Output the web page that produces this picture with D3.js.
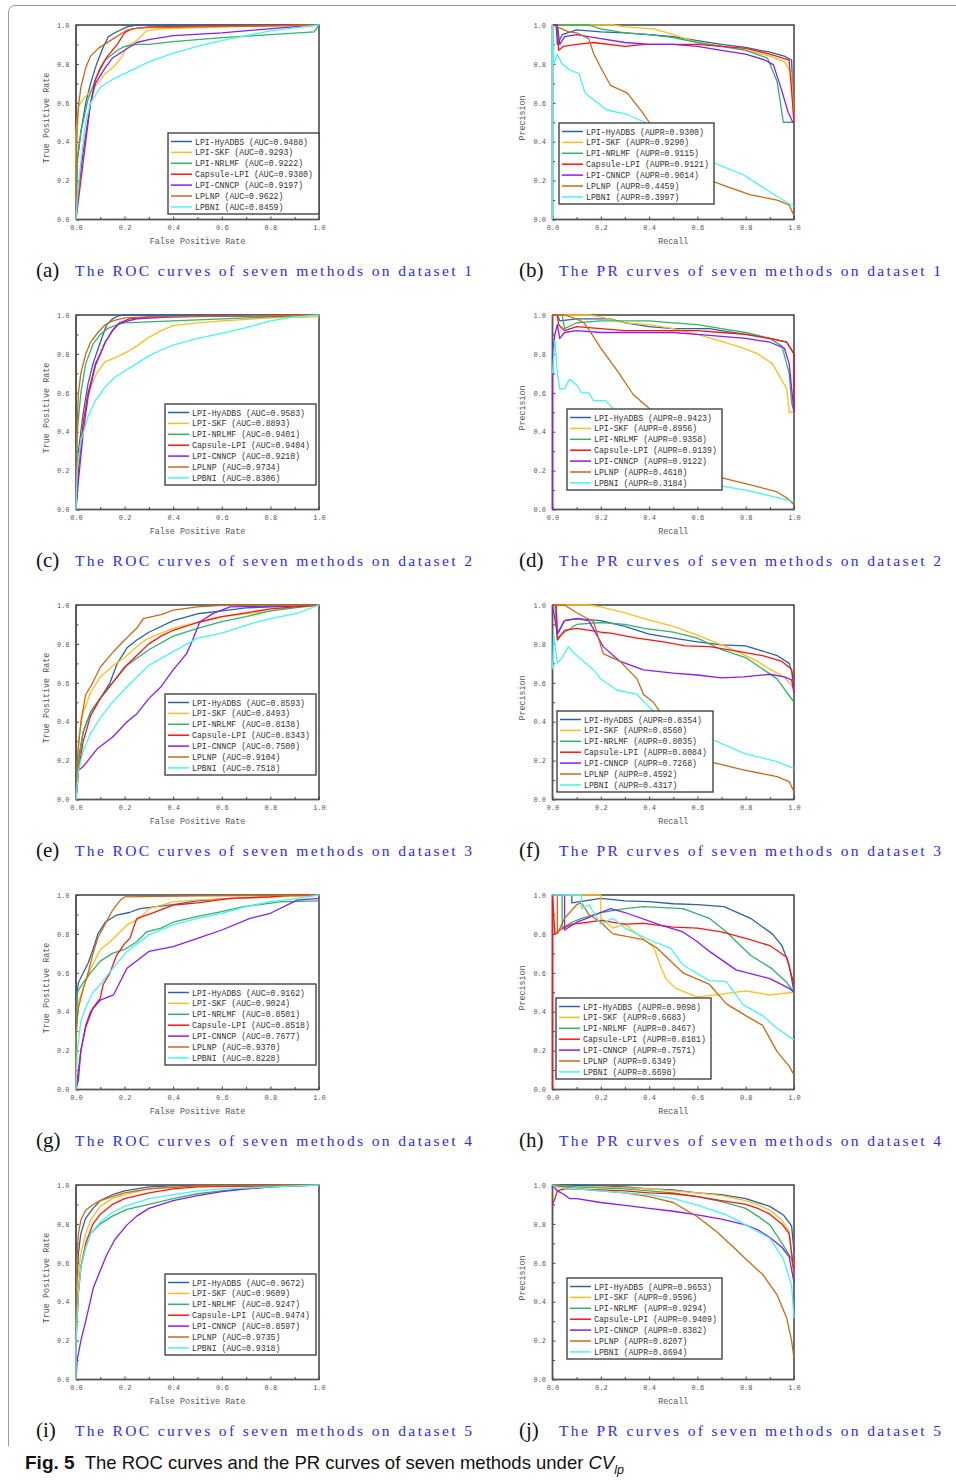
<!DOCTYPE html>
<html>
<head>
<meta charset="utf-8">
<script src="https://cdn.jsdelivr.net/npm/d3@7"></script>
<style>
body { margin: 0; background: #fff; }
</style>
</head>
<body>
<svg id="fig" width="956" height="1480"></svg>
<script>
// methods in legend order, and their line colours
const methods = ["LPI-HyADBS", "LPI-SKF", "LPI-NRLMF", "Capsule-LPI", "LPI-CNNCP", "LPLNP", "LPBNI"];
const colors = ["#2f62a3", "#ffbe1e", "#30b468", "#ff1414", "#8a1cf5", "#c96a16", "#45f5f5"];
const majorTicks = [0, 0.2, 0.4, 0.6, 0.8, 1.0];
const minorTicks = [0.1, 0.3, 0.5, 0.7, 0.9];

// AUC / AUPR per dataset, method order as above
const rocAuc = [
  ["0.9488", "0.9293", "0.9222", "0.9380", "0.9197", "0.9622", "0.8459"],
  ["0.9583", "0.8893", "0.9401", "0.9404", "0.9210", "0.9734", "0.8306"],
  ["0.8593", "0.8493", "0.8138", "0.8343", "0.7500", "0.9104", "0.7518"],
  ["0.9162", "0.9024", "0.8501", "0.8518", "0.7677", "0.9370", "0.8228"],
  ["0.9672", "0.9609", "0.9247", "0.9474", "0.8597", "0.9735", "0.9318"]
];
const prAupr = [
  ["0.9300", "0.9290", "0.9115", "0.9121", "0.9014", "0.4459", "0.3997"],
  ["0.9423", "0.8956", "0.9358", "0.9139", "0.9122", "0.4610", "0.3184"],
  ["0.8354", "0.8560", "0.8035", "0.8084", "0.7268", "0.4592", "0.4317"],
  ["0.9098", "0.6683", "0.8467", "0.8181", "0.7571", "0.6349", "0.6698"],
  ["0.9653", "0.9596", "0.9294", "0.9409", "0.8382", "0.8207", "0.8694"]
];

// curves: [x, y] points, one list per method
const roc1 = [
  [[0,0],[0.005,0.3],[0.02,0.45],[0.04,0.6],[0.06,0.7],[0.085,0.8],[0.11,0.88],[0.133,0.94],[0.16,0.96],[0.21,0.99],[0.25,1],[1,1]],
  [[0,0],[0,0.45],[0.01,0.58],[0.03,0.62],[0.06,0.66],[0.09,0.7],[0.12,0.75],[0.16,0.79],[0.19,0.84],[0.21,0.89],[0.25,0.92],[0.29,0.97],[0.35,0.98],[0.6,0.99],[1,1]],
  [[0,0],[0.005,0.3],[0.02,0.45],[0.05,0.62],[0.08,0.72],[0.12,0.82],[0.17,0.87],[0.2,0.89],[0.25,0.9],[0.3,0.9],[0.4,0.914],[0.6,0.935],[0.8,0.95],[0.98,0.965],[1,1]],
  [[0,0],[0.005,0.05],[0.02,0.2],[0.04,0.4],[0.06,0.6],[0.08,0.72],[0.1,0.78],[0.13,0.84],[0.17,0.9],[0.2,0.96],[0.23,0.98],[0.3,0.99],[0.6,0.995],[1,1]],
  [[0,0],[0.01,0.15],[0.03,0.35],[0.06,0.6],[0.08,0.7],[0.12,0.78],[0.15,0.83],[0.2,0.87],[0.25,0.91],[0.3,0.925],[0.4,0.945],[0.6,0.96],[0.84,0.985],[1,1]],
  [[0,0],[0,0.2],[0.005,0.48],[0.01,0.58],[0.02,0.68],[0.04,0.78],[0.06,0.84],[0.092,0.88],[0.154,0.93],[0.21,0.974],[0.26,0.985],[0.5,0.99],[1,1]],
  [[0,0],[0.005,0.1],[0.02,0.3],[0.04,0.5],[0.06,0.6],[0.1,0.68],[0.15,0.72],[0.2,0.75],[0.3,0.81],[0.4,0.855],[0.5,0.89],[0.6,0.92],[0.7,0.945],[0.8,0.97],[0.9,0.985],[1,1]]
];
const pr1 = [
  [[0,1],[0.015,1],[0.02,0.9],[0.04,0.95],[0.1,0.975],[0.2,0.965],[0.3,0.96],[0.4,0.95],[0.5,0.94],[0.6,0.92],[0.7,0.9],[0.8,0.885],[0.9,0.86],[0.96,0.84],[0.99,0.82],[1,0.5]],
  [[0,1],[0.25,1],[0.3,0.99],[0.42,0.98],[0.5,0.95],[0.6,0.91],[0.7,0.89],[0.8,0.87],[0.9,0.84],[0.96,0.81],[0.99,0.75],[1,0.5]],
  [[0,1],[0.15,1],[0.2,0.98],[0.3,0.96],[0.4,0.95],[0.5,0.935],[0.6,0.91],[0.7,0.89],[0.8,0.87],[0.89,0.83],[0.93,0.71],[0.956,0.5],[1,0.5]],
  [[0,1],[0.02,1],[0.025,0.87],[0.045,0.89],[0.1,0.9],[0.17,0.91],[0.3,0.89],[0.38,0.9],[0.5,0.9],[0.6,0.9],[0.7,0.89],[0.8,0.88],[0.9,0.85],[0.98,0.82],[1,0.5]],
  [[0,1],[0.02,1],[0.03,0.9],[0.05,0.94],[0.1,0.95],[0.2,0.93],[0.3,0.91],[0.4,0.9],[0.5,0.9],[0.6,0.89],[0.7,0.87],[0.8,0.85],[0.88,0.82],[0.915,0.795],[0.95,0.66],[0.976,0.55],[0.995,0.5],[1,0.5]],
  [[0,1],[0.066,0.966],[0.1,0.96],[0.15,0.93],[0.17,0.855],[0.2,0.78],[0.24,0.69],[0.31,0.65],[0.37,0.555],[0.4,0.5],[0.45,0.42],[0.5,0.35],[0.59,0.23],[0.72,0.17],[0.82,0.127],[0.93,0.1],[0.98,0.075],[1,0.02]],
  [[0,0],[0,1],[0.005,0.8],[0.02,0.85],[0.04,0.8],[0.07,0.77],[0.11,0.75],[0.135,0.65],[0.225,0.563],[0.31,0.54],[0.38,0.5],[0.45,0.43],[0.55,0.35],[0.65,0.3],[0.79,0.23],[0.93,0.118],[1,0.067]]
];
const roc2 = [
  [[0,0],[0.01,0.3],[0.03,0.5],[0.05,0.65],[0.07,0.75],[0.1,0.86],[0.126,0.95],[0.15,0.98],[0.174,0.995],[0.2,1],[1,1]],
  [[0,0],[0.01,0.25],[0.03,0.45],[0.05,0.6],[0.085,0.7],[0.12,0.76],[0.16,0.78],[0.21,0.81],[0.25,0.84],[0.3,0.885],[0.35,0.92],[0.4,0.945],[0.5,0.96],[0.6,0.97],[0.8,0.985],[1,0.99]],
  [[0,0],[0.005,0.4],[0.02,0.6],[0.04,0.75],[0.07,0.85],[0.1,0.9],[0.13,0.93],[0.17,0.95],[0.2,0.96],[0.3,0.965],[0.5,0.975],[0.7,0.985],[0.9,0.995],[1,1]],
  [[0,0],[0.01,0.2],[0.03,0.45],[0.05,0.6],[0.08,0.75],[0.1,0.8],[0.12,0.86],[0.15,0.92],[0.18,0.96],[0.22,0.98],[0.3,0.99],[1,1]],
  [[0,0],[0.01,0.15],[0.03,0.4],[0.05,0.58],[0.08,0.74],[0.1,0.8],[0.12,0.86],[0.15,0.92],[0.18,0.96],[0.25,0.98],[0.4,0.99],[1,1]],
  [[0,0],[0,0.2],[0.005,0.45],[0.01,0.6],[0.02,0.7],[0.04,0.8],[0.06,0.86],[0.09,0.91],[0.12,0.95],[0.15,0.97],[0.2,0.985],[0.3,0.99],[1,1]],
  [[0,0],[0.005,0.2],[0.02,0.35],[0.05,0.48],[0.08,0.56],[0.12,0.63],[0.16,0.68],[0.21,0.72],[0.25,0.75],[0.3,0.79],[0.35,0.82],[0.4,0.845],[0.5,0.88],[0.6,0.905],[0.7,0.935],[0.8,0.97],[0.9,0.99],[1,1]]
];
const pr2 = [
  [[0,1],[0.02,1],[0.03,0.97],[0.1,0.98],[0.24,0.98],[0.3,0.96],[0.4,0.94],[0.5,0.93],[0.65,0.93],[0.7,0.92],[0.8,0.9],[0.9,0.88],[0.97,0.86],[1,0.8],[1,0.5]],
  [[0,1],[0.15,1],[0.2,0.99],[0.3,0.96],[0.4,0.95],[0.5,0.93],[0.6,0.9],[0.71,0.86],[0.79,0.83],[0.85,0.8],[0.91,0.75],[0.97,0.62],[0.98,0.5],[1,0.5]],
  [[0,1],[0.04,1],[0.05,0.93],[0.1,0.96],[0.2,0.97],[0.4,0.97],[0.5,0.96],[0.6,0.95],[0.7,0.93],[0.8,0.91],[0.9,0.88],[0.95,0.84],[0.98,0.7],[0.99,0.55],[1,0.5]],
  [[0,1],[0.02,1],[0.025,0.95],[0.05,0.92],[0.1,0.94],[0.2,0.93],[0.3,0.92],[0.6,0.92],[0.7,0.91],[0.8,0.9],[0.9,0.88],[0.97,0.86],[1,0.8],[1,0.5]],
  [[0,0],[0,0.8],[0.01,0.9],[0.02,0.95],[0.03,0.88],[0.05,0.91],[0.1,0.92],[0.2,0.91],[0.5,0.91],[0.6,0.9],[0.7,0.89],[0.8,0.88],[0.9,0.86],[0.96,0.83],[0.98,0.75],[1,0.5]],
  [[0,1],[0.05,1],[0.1,0.98],[0.13,0.96],[0.156,0.914],[0.2,0.83],[0.27,0.71],[0.335,0.59],[0.4,0.52],[0.45,0.44],[0.55,0.3],[0.65,0.2],[0.71,0.16],[0.82,0.127],[0.93,0.09],[0.97,0.06],[1,0.024]],
  [[0,0.7],[0.01,0.87],[0.02,0.7],[0.03,0.62],[0.05,0.62],[0.07,0.67],[0.1,0.64],[0.12,0.6],[0.15,0.6],[0.17,0.56],[0.22,0.56],[0.25,0.52],[0.3,0.45],[0.4,0.33],[0.5,0.24],[0.6,0.16],[0.7,0.12],[0.8,0.1],[0.9,0.07],[1,0.04]]
];
const roc3 = [
  [[0,0],[0.01,0.2],[0.03,0.35],[0.06,0.45],[0.1,0.52],[0.14,0.6],[0.17,0.7],[0.21,0.78],[0.25,0.82],[0.3,0.86],[0.4,0.92],[0.5,0.955],[0.6,0.97],[0.7,0.985],[1,1]],
  [[0,0],[0.01,0.3],[0.03,0.45],[0.06,0.55],[0.1,0.63],[0.154,0.69],[0.2,0.73],[0.263,0.8],[0.3,0.83],[0.4,0.88],[0.5,0.91],[0.6,0.94],[0.7,0.955],[0.8,0.97],[0.9,0.99],[1,1]],
  [[0,0],[0.01,0.2],[0.03,0.35],[0.06,0.45],[0.1,0.52],[0.15,0.6],[0.21,0.69],[0.3,0.77],[0.4,0.84],[0.5,0.88],[0.6,0.915],[0.7,0.94],[0.8,0.97],[0.9,0.985],[1,1]],
  [[0,0],[0.01,0.15],[0.03,0.3],[0.06,0.43],[0.1,0.52],[0.15,0.6],[0.2,0.68],[0.25,0.74],[0.3,0.8],[0.35,0.84],[0.4,0.87],[0.5,0.91],[0.6,0.94],[0.7,0.96],[0.8,0.98],[0.9,0.99],[1,1]],
  [[0,0],[0.01,0.15],[0.03,0.17],[0.09,0.264],[0.15,0.32],[0.21,0.4],[0.25,0.44],[0.3,0.52],[0.35,0.58],[0.4,0.666],[0.455,0.75],[0.48,0.82],[0.51,0.914],[0.565,0.957],[0.634,0.99],[1,1]],
  [[0,0],[0.005,0.2],[0.02,0.4],[0.04,0.54],[0.06,0.58],[0.1,0.68],[0.154,0.76],[0.2,0.82],[0.25,0.88],[0.277,0.93],[0.35,0.95],[0.4,0.974],[0.5,0.99],[0.6,0.998],[1,1]],
  [[0,0],[0.01,0.15],[0.03,0.25],[0.06,0.34],[0.1,0.42],[0.15,0.5],[0.21,0.58],[0.3,0.69],[0.4,0.76],[0.5,0.83],[0.6,0.855],[0.7,0.897],[0.8,0.93],[0.91,0.957],[1,1]]
];
const pr3 = [
  [[0,1],[0.015,1],[0.02,0.85],[0.05,0.92],[0.1,0.93],[0.2,0.92],[0.3,0.89],[0.4,0.85],[0.5,0.83],[0.6,0.81],[0.7,0.795],[0.8,0.79],[0.93,0.74],[0.98,0.7],[1,0.62]],
  [[0,1],[0.15,1],[0.2,0.99],[0.3,0.96],[0.38,0.93],[0.5,0.89],[0.6,0.845],[0.73,0.78],[0.8,0.74],[0.85,0.71],[0.9,0.67],[0.96,0.63],[1,0.57]],
  [[0,1],[0.01,1],[0.02,0.83],[0.05,0.86],[0.1,0.9],[0.2,0.91],[0.3,0.9],[0.38,0.88],[0.5,0.86],[0.6,0.83],[0.7,0.77],[0.8,0.73],[0.93,0.62],[1,0.5]],
  [[0,1],[0.015,1],[0.02,0.82],[0.05,0.87],[0.1,0.88],[0.2,0.86],[0.24,0.855],[0.35,0.83],[0.46,0.81],[0.55,0.79],[0.65,0.786],[0.75,0.765],[0.87,0.74],[0.95,0.71],[0.99,0.67],[1,0.55]],
  [[0,1],[0.02,0.85],[0.05,0.92],[0.1,0.93],[0.15,0.92],[0.21,0.786],[0.28,0.71],[0.377,0.666],[0.5,0.65],[0.6,0.64],[0.7,0.625],[0.79,0.63],[0.9,0.644],[0.96,0.63],[0.99,0.615],[1,0.55]],
  [[0,1],[0.05,1],[0.1,0.96],[0.17,0.914],[0.21,0.75],[0.28,0.71],[0.35,0.62],[0.377,0.54],[0.418,0.5],[0.45,0.44],[0.5,0.36],[0.55,0.28],[0.65,0.195],[0.79,0.152],[0.93,0.118],[0.98,0.092],[1,0.04]],
  [[0,0.67],[0.005,0.85],[0.02,0.7],[0.04,0.73],[0.066,0.786],[0.1,0.74],[0.17,0.666],[0.2,0.62],[0.266,0.563],[0.35,0.54],[0.404,0.47],[0.45,0.42],[0.55,0.35],[0.65,0.315],[0.79,0.238],[0.93,0.195],[1,0.16]]
];
const roc4 = [
  [[0,0],[0,0.35],[0.005,0.5],[0.01,0.55],[0.03,0.6],[0.05,0.65],[0.07,0.72],[0.09,0.8],[0.12,0.86],[0.167,0.897],[0.22,0.91],[0.263,0.93],[0.4,0.95],[0.5,0.97],[0.6,0.98],[0.8,0.99],[1,1]],
  [[0,0],[0,0.25],[0.01,0.45],[0.03,0.52],[0.06,0.62],[0.1,0.72],[0.14,0.76],[0.21,0.846],[0.263,0.88],[0.3,0.93],[0.4,0.965],[0.5,0.975],[0.6,0.98],[0.8,0.99],[1,1]],
  [[0,0],[0,0.2],[0.005,0.5],[0.03,0.55],[0.06,0.6],[0.1,0.66],[0.15,0.7],[0.2,0.72],[0.25,0.76],[0.29,0.81],[0.35,0.83],[0.4,0.86],[0.5,0.89],[0.6,0.915],[0.69,0.94],[0.84,0.965],[1,0.97]],
  [[0,0],[0.01,0.1],[0.02,0.2],[0.04,0.32],[0.07,0.42],[0.1,0.47],[0.112,0.54],[0.14,0.6],[0.167,0.69],[0.2,0.75],[0.222,0.777],[0.25,0.88],[0.3,0.9],[0.4,0.948],[0.5,0.96],[0.634,0.983],[0.8,0.99],[0.9,1],[1,1]],
  [[0,0],[0.01,0.05],[0.02,0.2],[0.04,0.33],[0.06,0.4],[0.1,0.46],[0.154,0.486],[0.21,0.623],[0.3,0.71],[0.4,0.735],[0.5,0.777],[0.6,0.82],[0.716,0.88],[0.8,0.906],[0.91,0.974],[1,0.983]],
  [[0,0],[0,0.3],[0.01,0.42],[0.03,0.52],[0.05,0.6],[0.07,0.7],[0.09,0.78],[0.12,0.85],[0.15,0.92],[0.18,0.97],[0.2,0.99],[0.5,0.995],[1,1]],
  [[0,0],[0.005,0.2],[0.02,0.35],[0.04,0.42],[0.07,0.5],[0.1,0.54],[0.15,0.62],[0.21,0.71],[0.3,0.795],[0.4,0.846],[0.5,0.88],[0.6,0.906],[0.7,0.94],[0.8,0.966],[0.9,0.98],[1,1]]
];
const pr4 = [
  [[0,1],[0.08,1],[0.08,0.96],[0.2,0.983],[0.3,0.97],[0.4,0.966],[0.5,0.955],[0.6,0.95],[0.71,0.94],[0.82,0.88],[0.91,0.8],[0.95,0.74],[0.98,0.64],[1,0.5]],
  [[0,1],[0.2,1],[0.2,0.88],[0.25,0.83],[0.3,0.85],[0.35,0.8],[0.42,0.73],[0.445,0.64],[0.47,0.57],[0.51,0.52],[0.6,0.476],[0.7,0.49],[0.8,0.507],[0.9,0.486],[1,0.5]],
  [[0,1],[0.04,1],[0.04,0.83],[0.08,0.86],[0.12,0.88],[0.2,0.91],[0.3,0.93],[0.377,0.94],[0.54,0.93],[0.65,0.88],[0.72,0.81],[0.82,0.69],[0.91,0.62],[0.97,0.55],[1,0.5]],
  [[0,0],[0,1],[0.01,0.8],[0.03,0.82],[0.08,0.85],[0.15,0.86],[0.2,0.87],[0.3,0.85],[0.377,0.854],[0.5,0.835],[0.6,0.83],[0.7,0.81],[0.8,0.777],[0.9,0.74],[0.97,0.68],[1,0.54]],
  [[0,1],[0.05,1],[0.05,0.82],[0.1,0.86],[0.142,0.88],[0.2,0.91],[0.24,0.93],[0.3,0.91],[0.445,0.846],[0.54,0.81],[0.6,0.76],[0.65,0.71],[0.76,0.615],[0.9,0.57],[0.98,0.52],[1,0.5]],
  [[0,1],[0.02,1],[0.02,0.8],[0.05,0.88],[0.1,0.95],[0.12,0.96],[0.15,0.9],[0.2,0.86],[0.25,0.8],[0.377,0.77],[0.43,0.73],[0.54,0.6],[0.65,0.54],[0.72,0.44],[0.8,0.38],[0.87,0.33],[0.93,0.195],[0.98,0.12],[1,0.075]],
  [[0,1],[0.12,1],[0.12,0.93],[0.15,0.95],[0.2,0.85],[0.25,0.88],[0.3,0.83],[0.35,0.8],[0.4,0.77],[0.49,0.726],[0.54,0.64],[0.65,0.56],[0.72,0.555],[0.79,0.435],[0.87,0.38],[0.93,0.315],[1,0.255]]
];
const roc5 = [
  [[0,0],[0,0.2],[0.005,0.5],[0.01,0.65],[0.02,0.75],[0.04,0.83],[0.07,0.88],[0.1,0.92],[0.15,0.95],[0.2,0.97],[0.3,0.99],[0.4,0.995],[1,1]],
  [[0,0],[0,0.3],[0.005,0.45],[0.01,0.55],[0.02,0.65],[0.04,0.75],[0.06,0.82],[0.1,0.89],[0.15,0.93],[0.2,0.95],[0.3,0.98],[0.4,0.99],[1,1]],
  [[0,0],[0,0.2],[0.01,0.45],[0.02,0.58],[0.04,0.68],[0.06,0.75],[0.1,0.8],[0.15,0.84],[0.21,0.875],[0.3,0.9],[0.4,0.93],[0.5,0.955],[0.6,0.97],[0.7,0.98],[0.8,0.99],[1,1]],
  [[0,0],[0,0.2],[0.01,0.45],[0.02,0.58],[0.04,0.7],[0.07,0.8],[0.1,0.85],[0.15,0.9],[0.2,0.93],[0.3,0.96],[0.4,0.98],[0.5,0.99],[1,1]],
  [[0,0],[0.005,0.1],[0.02,0.2],[0.04,0.3],[0.071,0.47],[0.1,0.56],[0.126,0.64],[0.16,0.72],[0.21,0.795],[0.25,0.84],[0.3,0.88],[0.4,0.92],[0.5,0.945],[0.6,0.966],[0.7,0.98],[0.8,0.99],[0.9,0.995],[1,1]],
  [[0,0],[0,0.25],[0.003,0.6],[0.01,0.75],[0.02,0.82],[0.04,0.87],[0.07,0.9],[0.1,0.92],[0.15,0.94],[0.2,0.96],[0.3,0.98],[0.5,0.995],[1,1]],
  [[0,0],[0,0.2],[0.01,0.45],[0.02,0.58],[0.04,0.68],[0.06,0.75],[0.1,0.81],[0.15,0.86],[0.2,0.89],[0.3,0.93],[0.4,0.95],[0.5,0.97],[0.6,0.98],[0.8,0.99],[1,1]]
];
const pr5 = [
  [[0,1],[0.1,1],[0.2,0.995],[0.3,0.99],[0.4,0.98],[0.5,0.975],[0.6,0.96],[0.7,0.95],[0.8,0.93],[0.9,0.89],[0.956,0.846],[0.99,0.79],[1,0.66]],
  [[0,1],[0.1,0.99],[0.2,0.99],[0.3,0.985],[0.4,0.98],[0.5,0.97],[0.6,0.96],[0.7,0.945],[0.8,0.92],[0.85,0.9],[0.9,0.87],[0.95,0.82],[0.98,0.76],[1,0.55]],
  [[0,1],[0.1,0.99],[0.2,0.985],[0.3,0.98],[0.4,0.97],[0.5,0.96],[0.6,0.94],[0.7,0.915],[0.8,0.88],[0.85,0.84],[0.9,0.795],[0.956,0.69],[0.99,0.62],[1,0.55]],
  [[0,0.9],[0.01,0.93],[0.02,0.97],[0.05,0.98],[0.1,0.98],[0.2,0.975],[0.3,0.97],[0.4,0.96],[0.5,0.955],[0.6,0.94],[0.7,0.92],[0.8,0.9],[0.85,0.88],[0.9,0.85],[0.95,0.8],[0.98,0.75],[1,0.55]],
  [[0,1],[0.02,0.97],[0.05,0.95],[0.07,0.93],[0.1,0.93],[0.2,0.91],[0.3,0.895],[0.4,0.88],[0.5,0.865],[0.6,0.846],[0.7,0.825],[0.8,0.795],[0.85,0.77],[0.9,0.73],[0.95,0.68],[0.98,0.63],[1,0.5]],
  [[0,1],[0.1,0.98],[0.2,0.97],[0.3,0.96],[0.4,0.94],[0.5,0.91],[0.6,0.837],[0.68,0.76],[0.75,0.68],[0.8,0.62],[0.87,0.54],[0.93,0.435],[0.97,0.315],[0.99,0.2],[1,0.11]],
  [[0,1],[0.02,0.985],[0.1,0.98],[0.2,0.97],[0.3,0.96],[0.4,0.95],[0.5,0.93],[0.6,0.897],[0.72,0.846],[0.8,0.795],[0.9,0.726],[0.956,0.62],[0.99,0.486],[1,0.315]]
];

const rocData = [roc1, roc2, roc3, roc4, roc5];
const prData = [pr1, pr2, pr3, pr4, pr5];
const letters = [["(a)", "(b)"], ["(c)", "(d)"], ["(e)", "(f)"], ["(g)", "(h)"], ["(i)", "(j)"]];

// layout
const rowTop = [25, 315, 605, 895, 1185];
const plotH = 194.5;
const rocX = [76, 319];
const prX = [552.5, 794];
// legend box per panel: [left, top offset from plot top, width]
const rocLeg = [[168, 108, 151], [165, 89, 151], [165, 89, 151], [165, 89, 151], [165, 89, 151]];
const prLeg = [[559, 98, 155], [567, 94, 155], [557, 106, 156], [556, 103, 155], [567, 93, 155]];

const svg = d3.select("#fig");
const mono = "'Liberation Mono', 'DejaVu Sans Mono', monospace";

// outer frame (rounded top-left corner)
svg.append("path")
  .attr("d", "M956,5.5 H16 Q8.5,5.5 8.5,13 V1446")
  .attr("fill", "none")
  .attr("stroke", "#9a9a9a")
  .attr("stroke-width", 1);

function drawPanel(xr, top, series, vals, valKey, leg, xTitle, yTitle) {
  const g = svg.append("g");
  const x = d3.scaleLinear().domain([0, 1]).range(xr);
  const y = d3.scaleLinear().domain([0, 1]).range([top + plotH, top]);
  const bottom = top + plotH;

  // box
  g.append("rect")
    .attr("x", xr[0]).attr("y", top)
    .attr("width", xr[1] - xr[0]).attr("height", plotH)
    .attr("fill", "none").attr("stroke", "#222").attr("stroke-width", 1.3);

  // axes with inward ticks
  g.append("g").attr("transform", `translate(0,${bottom})`)
    .call(d3.axisBottom(x).tickValues(majorTicks).tickFormat(d3.format(".1f")).tickSize(-3).tickPadding(5.5));
  g.append("g").attr("transform", `translate(0,${bottom})`)
    .call(d3.axisBottom(x).tickValues(minorTicks).tickFormat("").tickSize(-2.5));
  g.append("g").attr("transform", `translate(${xr[0]},0)`)
    .call(d3.axisLeft(y).tickValues(majorTicks).tickFormat(d3.format(".1f")).tickSize(-3).tickPadding(6.5));
  g.append("g").attr("transform", `translate(${xr[0]},0)`)
    .call(d3.axisLeft(y).tickValues(minorTicks).tickFormat("").tickSize(-2.5));
  g.selectAll(".domain").remove();
  g.selectAll(".tick line").attr("stroke", "#444");
  g.selectAll(".tick text").attr("font-family", mono).attr("font-size", 7).attr("fill", "#555");

  // left and bottom axis lines
  g.append("line").attr("x1", xr[0]).attr("x2", xr[0]).attr("y1", top).attr("y2", bottom)
    .attr("stroke", "#555").attr("stroke-width", 1.5);
  g.append("line").attr("x1", xr[0]).attr("x2", xr[1]).attr("y1", bottom).attr("y2", bottom)
    .attr("stroke", "#555").attr("stroke-width", 1.5);

  // titles
  g.append("text").attr("x", (xr[0] + xr[1]) / 2).attr("y", bottom + 24)
    .attr("text-anchor", "middle").attr("font-family", mono).attr("font-size", 8.4)
    .attr("fill", "#555").text(xTitle);
  g.append("text").attr("transform", `translate(${xr[0] - 27.5},${top + 93}) rotate(-90)`)
    .attr("text-anchor", "middle").attr("font-family", mono).attr("font-size", 8.4)
    .attr("fill", "#555").text(yTitle);

  // curves
  const line = d3.line().x(d => x(d[0])).y(d => y(d[1]));
  g.selectAll("path.curve").data(series).enter().append("path")
    .attr("class", "curve")
    .attr("d", d => line(d))
    .attr("fill", "none")
    .attr("stroke", (d, i) => colors[i])
    .attr("stroke-width", 1.3)
    .attr("stroke-linejoin", "round");

  // legend
  const lx = leg[0], ly = top + leg[1], lw = leg[2], lh = 81;
  const lg = g.append("g");
  lg.append("rect").attr("x", lx).attr("y", ly).attr("width", lw).attr("height", lh)
    .attr("fill", "#fff").attr("stroke", "#444").attr("stroke-width", 1.4);
  const rows = lg.selectAll("g.row").data(methods).enter().append("g")
    .attr("transform", (d, i) => `translate(${lx},${ly + 8.5 + i * 10.9})`);
  rows.append("line").attr("x1", 3).attr("x2", 24).attr("y1", 0).attr("y2", 0)
    .attr("stroke", (d, i) => colors[i]).attr("stroke-width", 1.5);
  rows.append("text").attr("x", 27).attr("y", 3)
    .attr("font-family", mono).attr("font-size", 8.2).attr("fill", "#333")
    .text((d, i) => `${d} (${valKey}=${vals[i]})`);
}

const serif = "'Liberation Serif', 'DejaVu Serif', serif";
rowTop.forEach((top, r) => {
  drawPanel(rocX, top, rocData[r], rocAuc[r], "AUC", rocLeg[r], "False Positive Rate", "True Positive Rate");
  drawPanel(prX, top, prData[r], prAupr[r], "AUPR", prLeg[r], "Recall", "Precision");

  const cy = top + 252;
  svg.append("text").attr("x", 36).attr("y", cy).attr("font-family", serif)
    .attr("font-size", 21).attr("fill", "#111").text(letters[r][0]);
  svg.append("text").attr("x", 75).attr("y", cy - 1).attr("font-family", serif)
    .attr("font-size", 15.5).attr("fill", "#2a2aff")
    .attr("textLength", 397).attr("lengthAdjust", "spacing")
    .text(`The ROC curves of seven methods on dataset ${r + 1}`);
  svg.append("text").attr("x", 519).attr("y", cy).attr("font-family", serif)
    .attr("font-size", 21).attr("fill", "#111").text(letters[r][1]);
  svg.append("text").attr("x", 559).attr("y", cy - 1).attr("font-family", serif)
    .attr("font-size", 15.5).attr("fill", "#2a2aff")
    .attr("textLength", 382).attr("lengthAdjust", "spacing")
    .text(`The PR curves of seven methods on dataset ${r + 1}`);
});

// figure caption, one text element with inline italic CV and subscript lp
const cap = svg.append("text").attr("x", 25).attr("y", 1469)
  .attr("font-family", "'Liberation Sans', 'Noto Sans', sans-serif")
  .attr("font-size", 18.5).attr("fill", "#111");
cap.append("tspan").attr("font-weight", "bold").attr("font-size", 19).text("Fig. 5");
cap.append("tspan").attr("dx", 10).text("The ROC curves and the PR curves of seven methods under ");
cap.append("tspan").attr("font-style", "italic").text("CV");
cap.append("tspan").attr("font-style", "italic").attr("font-size", 12.5).attr("dy", 5).text("lp");
</script>
</body>
</html>
